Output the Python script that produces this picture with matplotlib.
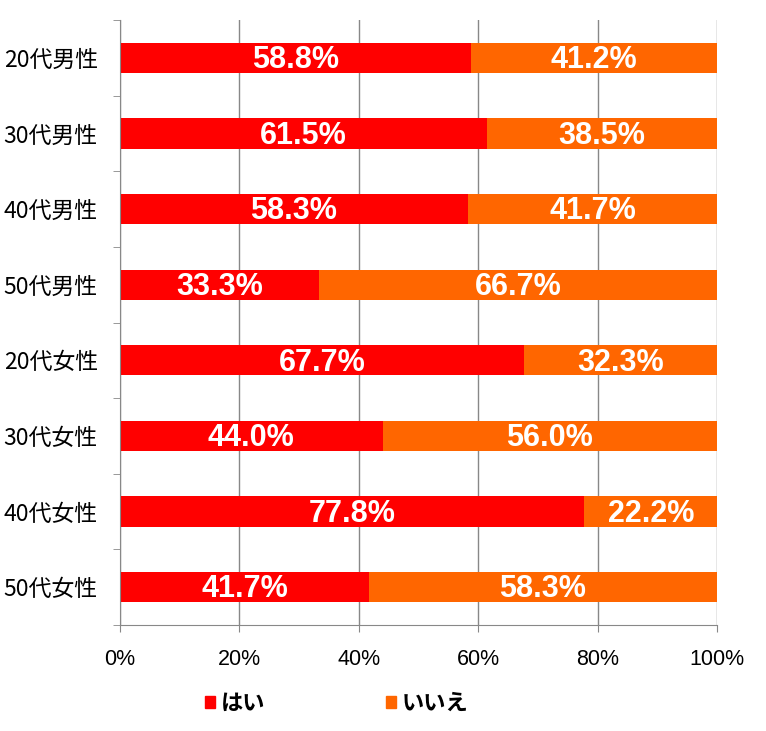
import numpy as np
import matplotlib
matplotlib.use("Agg")
import matplotlib.pyplot as plt
from matplotlib.patches import Patch

categories = ["20代男性", "30代男性", "40代男性", "50代男性",
              "20代女性", "30代女性", "40代女性", "50代女性"]
yes = [58.8, 61.5, 58.3, 33.3, 67.7, 44.0, 77.8, 41.7]
no = [41.2, 38.5, 41.7, 66.7, 32.3, 56.0, 22.2, 58.3]
series_names = ["はい", "いいえ"]
colors = ["#FF0000", "#FF6600"]

cjk = ["Noto Sans CJK JP", "DejaVu Sans"]
num_font = ["Liberation Sans", "DejaVu Sans"]

fig = plt.figure(figsize=(7.66, 7.31), dpi=100)
ax = fig.add_axes([120 / 766, 1 - 625 / 731, 597 / 766, 605 / 731])

y = np.arange(len(categories))
ax.barh(y, yes, height=0.4, color=colors[0], zorder=2)
ax.barh(y, no, left=yes, height=0.4, color=colors[1], zorder=2)

# white bold percentages in the middle of each segment
for i in range(len(categories)):
    ax.text(yes[i] / 2, y[i] + 0.03, f"{yes[i]:.1f}%", ha="center", va="center",
            color="white", fontsize=22, fontweight="bold", family=num_font, zorder=3)
    ax.text(yes[i] + no[i] / 2, y[i] + 0.03, f"{no[i]:.1f}%", ha="center", va="center",
            color="white", fontsize=22, fontweight="bold", family=num_font, zorder=3)

ax.set_xlim(0, 100)
ax.set_ylim(len(categories) - 0.5, -0.5)
ax.set_xticks(np.arange(0, 101, 20))
ax.set_xticklabels([f"{v}%" for v in range(0, 101, 20)], family=num_font, fontsize=15.5)
ax.set_yticks(y)
ax.set_yticklabels(categories, family=cjk, fontsize=16.5)
ax.set_yticks(np.arange(-0.5, len(categories), 1), minor=True)
ax.tick_params(axis="y", which="major", length=0, pad=16)
ax.tick_params(axis="y", which="minor", length=5, color="#888888", direction="out")
ax.tick_params(axis="x", length=5, color="#888888", pad=12)

ax.grid(axis="x", color="#888888", linewidth=1, zorder=0)
for s in ["top", "right"]:
    ax.spines[s].set_visible(False)
for s in ["left", "bottom"]:
    ax.spines[s].set_color("#888888")

handles = [Patch(color=c, label=n) for c, n in zip(colors, series_names)]
fig.legend(handles=handles, loc="center", bbox_to_anchor=(337 / 766, 1 - 703 / 731),
           ncol=2, frameon=False, columnspacing=5.45, handlelength=0.45, handleheight=0.45,
           handletextpad=0.25, prop={"family": cjk, "size": 16, "weight": "bold"})

fig.savefig("out.png", dpi=100)
